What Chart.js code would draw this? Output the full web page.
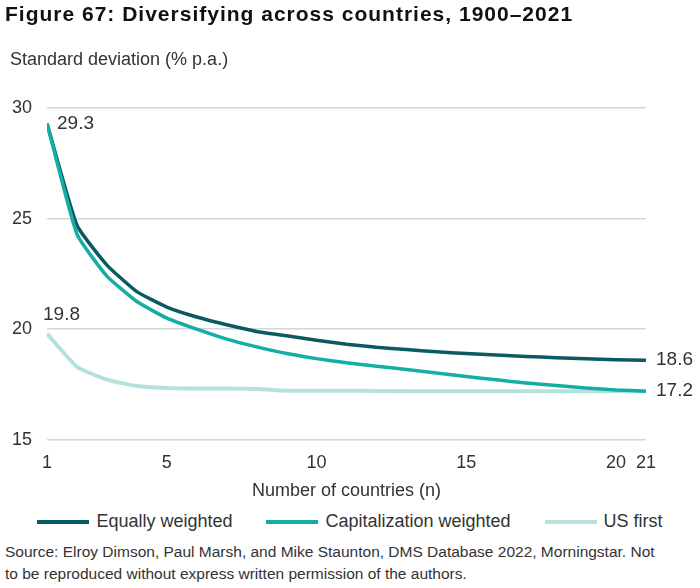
<!DOCTYPE html>
<html>
<head>
<meta charset="utf-8">
<script src="https://cdn.jsdelivr.net/npm/chart.js@4.4.1/dist/chart.umd.min.js"></script>
<style>
  body { margin: 0; background: #fff; font-family: "Liberation Sans", Arial, sans-serif; }
  #wrap { position: relative; width: 700px; height: 588px; overflow: hidden; }
  #title { position: absolute; left: 5px; top: 2px; font-size: 21px; letter-spacing: 1px; font-weight: bold; color: #111; white-space: nowrap; }
  #ylabel { position: absolute; left: 10px; top: 49px; font-size: 18px; color: #333; white-space: nowrap; }
  #legend { position: absolute; left: 0; top: 511px; width: 700px; display: flex; justify-content: center; gap: 34px; font-size: 18px; color: #333; }
  #legend .item { display: flex; align-items: center; white-space: nowrap; }
  #legend .swatch { display: inline-block; width: 52px; height: 4px; margin-right: 7px; }
  #source { position: absolute; left: 5px; top: 541px; font-size: 15.5px; line-height: 22px; color: #333; white-space: nowrap; }
  #chartBox { position: absolute; left: 0; top: 0; width: 700px; height: 510px; }
</style>
</head>
<body>
<div id="wrap">
  <div id="chartBox"><canvas id="chart"></canvas></div>
  <div id="title">Figure 67: Diversifying across countries, 1900–2021</div>
  <div id="ylabel">Standard deviation (% p.a.)</div>
  <div id="legend"></div>
  <div id="source">Source: Elroy Dimson, Paul Marsh, and Mike Staunton, DMS Database 2022, Morningstar. Not<br>to be reproduced without express written permission of the authors.</div>
</div>
<script>
// number of countries in the portfolio
const countries = [1, 2, 3, 4, 5, 6, 7, 8, 9, 10, 11, 12, 13, 14, 15, 16, 17, 18, 19, 20, 21];

// standard deviation (% p.a.)
const equallyWeighted = [29.3, 24.7, 22.9, 21.7, 21.0, 20.55, 20.2, 19.9, 19.7, 19.5, 19.32, 19.18, 19.08, 18.98, 18.9, 18.83, 18.77, 18.71, 18.66, 18.62, 18.6];
const capWeighted = [29.3, 24.3, 22.4, 21.25, 20.5, 20.0, 19.55, 19.2, 18.9, 18.67, 18.48, 18.33, 18.18, 18.02, 17.86, 17.71, 17.57, 17.45, 17.34, 17.25, 17.2];
const usFirst = [19.8, 18.3, 17.72, 17.43, 17.34, 17.32, 17.32, 17.3, 17.22, 17.22, 17.22, 17.21, 17.2, 17.2, 17.2, 17.19, 17.19, 17.19, 17.2, 17.2, 17.2];

const xTicks = [1, 5, 10, 15, 20, 21];
const yTicks = [15, 20, 25, 30];

const seriesNames = ['Equally weighted', 'Capitalization weighted', 'US first'];
const seriesColors = ['#0b5a62', '#14aea4', '#b6e2de'];

// which points get a value label, and on which side
const valueLabels = [
    { ds: 0, i: 0, side: 'right' },
    { ds: 2, i: 0, side: 'above' },
    { ds: 0, i: 20, side: 'right' },
    { ds: 1, i: 20, side: 'right' }
];

const tickFont = { family: 'Liberation Sans', size: 18 };

function toXY(values) {
    return values.map((v, i) => ({ x: countries[i], y: v }));
}

// html legend
const legendEl = document.getElementById('legend');
seriesNames.forEach((name, i) => {
    const item = document.createElement('div');
    item.className = 'item';
    item.innerHTML = '<span class="swatch" style="background:' + seriesColors[i] + '"></span>' + name;
    legendEl.appendChild(item);
});

const labelPlugin = {
    id: 'valueLabels',
    afterDatasetsDraw(chart) {
        const ctx = chart.ctx;
        ctx.save();
        ctx.font = '19px "Liberation Sans"';
        ctx.fillStyle = '#333';
        ctx.textBaseline = 'middle';
        ctx.textAlign = 'left';
        valueLabels.forEach(l => {
            const pt = chart.getDatasetMeta(l.ds).data[l.i];
            const val = chart.data.datasets[l.ds].data[l.i].y.toFixed(1);
            if (l.side === 'right') {
                ctx.fillText(val, pt.x + 10, pt.y);
            } else {
                ctx.fillText(val, pt.x - 4, pt.y - 19);
            }
        });
        ctx.restore();
    }
};

const ctx = document.getElementById('chart').getContext('2d');
new Chart(ctx, {
    type: 'line',
    data: {
        datasets: [
            { label: seriesNames[0], data: toXY(equallyWeighted), borderColor: seriesColors[0], borderWidth: 3.5, order: 2 },
            { label: seriesNames[1], data: toXY(capWeighted), borderColor: seriesColors[1], borderWidth: 3.5, order: 1 },
            { label: seriesNames[2], data: toXY(usFirst), borderColor: seriesColors[2], borderWidth: 4, order: 3 }
        ]
    },
    options: {
        responsive: true,
        maintainAspectRatio: false,
        animation: false,
        layout: { padding: { top: 108, left: 8, right: 54, bottom: 8 } },
        elements: {
            point: { radius: 0 },
            line: { tension: 0.15, fill: false, borderCapStyle: 'butt' }
        },
        scales: {
            x: {
                type: 'linear',
                min: 1,
                max: 21,
                afterBuildTicks: axis => { axis.ticks = xTicks.map(v => ({ value: v })); },
                grid: { display: false },
                border: { display: false },
                ticks: { font: tickFont, color: '#333', padding: 4, maxRotation: 0, autoSkip: false },
                title: { display: true, text: 'Number of countries (n)', font: { family: 'Liberation Sans', size: 18 }, color: '#333', padding: { top: 3, bottom: 0 } }
            },
            y: {
                min: 15,
                max: 30,
                afterBuildTicks: axis => { axis.ticks = yTicks.map(v => ({ value: v })); },
                afterFit: axis => { axis.width = 39; },
                grid: { color: '#d6d6d6', lineWidth: 1.5, drawTicks: false },
                border: { display: false },
                ticks: { font: tickFont, color: '#333', padding: 15 }
            }
        },
        plugins: {
            legend: { display: false },
            tooltip: { enabled: false }
        }
    },
    plugins: [labelPlugin]
});
</script>
</body>
</html>
